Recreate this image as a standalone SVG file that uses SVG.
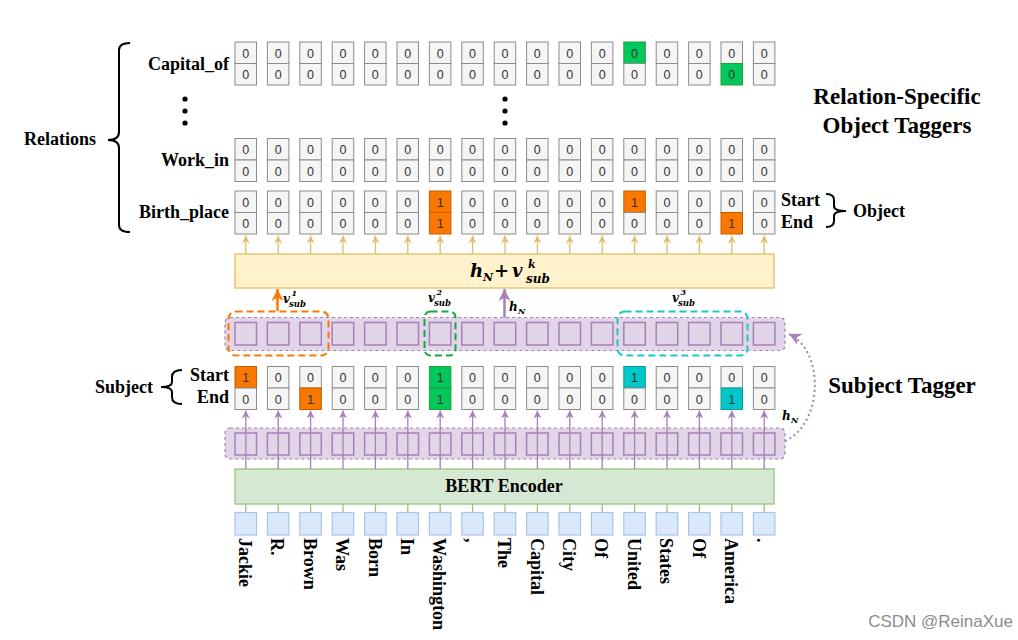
<svg xmlns="http://www.w3.org/2000/svg" width="1018" height="640" viewBox="0 0 1018 640">
<defs>
<style>
.c{fill:#f5f5f5;stroke:#8c8c8c;stroke-width:1}
.o{fill:#fa7800;stroke:#c45c00;stroke-width:1}
.g{fill:#00c85a;stroke:#2a9a3a;stroke-width:1}
.cy{fill:#00c8c8;stroke:#129a9a;stroke-width:1}
.d{font-family:"Liberation Sans",Arial,sans-serif;font-size:12.5px;fill:#333;text-anchor:middle}
.lb{font-family:"Liberation Serif","Times New Roman",serif;font-weight:bold;font-size:18px;fill:#000}
.big{font-family:"Liberation Serif","Times New Roman",serif;font-weight:bold;font-size:23px;fill:#000;text-anchor:middle}
.tk{font-family:"Liberation Serif","Times New Roman",serif;font-weight:bold;font-size:18px;fill:#000}
.m{font-family:"DejaVu Serif","Liberation Serif",serif;font-weight:bold;font-style:italic;fill:#000}
.band{fill:#e1d5e7;stroke:#a680b8;stroke-width:1.2;stroke-dasharray:3 3}
.sq{fill:#e1d5e7;stroke:#a680b8;stroke-width:1.5}
.tok{fill:#dae8fc;stroke:#a9c4eb;stroke-width:1.2}
.br{fill:none;stroke:#000;stroke-width:2}
.pa{stroke:#a680b8;stroke-width:1.3;fill:none}
.ya{stroke:#e0be6a;stroke-width:1.3;fill:none}
.gl{stroke:#97c27e;stroke-width:1.3;fill:none}
</style>
<marker id="mp" viewBox="0 0 10 10" refX="10" refY="5" markerWidth="8" markerHeight="8" orient="auto" markerUnits="userSpaceOnUse"><path d="M0,0 L10,5 L0,10 L3,5 z" fill="#a680b8"/></marker>
<marker id="my" viewBox="0 0 10 10" refX="10" refY="5" markerWidth="8" markerHeight="8" orient="auto" markerUnits="userSpaceOnUse"><path d="M0,0 L10,5 L0,10 L3,5 z" fill="#e0be6a"/></marker>
<marker id="mo" viewBox="0 0 10 10" refX="10" refY="5" markerWidth="12" markerHeight="12" orient="auto" markerUnits="userSpaceOnUse"><path d="M0,0 L10,5 L0,10 L3,5 z" fill="#fa7800"/></marker>
<marker id="mpb" viewBox="0 0 10 10" refX="10" refY="5" markerWidth="12" markerHeight="12" orient="auto" markerUnits="userSpaceOnUse"><path d="M0,0 L10,5 L0,10 L3,5 z" fill="#a680b8"/></marker>
</defs>
<rect width="1018" height="640" fill="#fff"/>

<!-- labels -->
<g id="labels">
<text class="lb" x="229" y="70" text-anchor="end">Capital_of</text>
<text class="lb" x="229" y="166" text-anchor="end">Work_in</text>
<text class="lb" x="229" y="218" text-anchor="end">Birth_place</text>
<text class="lb" x="24" y="145">Relations</text>
<path class="br" d="M130,43 Q119,43 119,50 L119,132 Q119,140 108,140 Q119,140 119,148 L119,225 Q119,232 130,232"/>
<circle cx="185" cy="99" r="2.6"/><circle cx="185" cy="111" r="2.6"/><circle cx="185" cy="123" r="2.6"/>
<circle cx="505" cy="99" r="2.6"/><circle cx="505" cy="111" r="2.6"/><circle cx="505" cy="123" r="2.6"/>
<text class="big" x="897" y="104">Relation-Specific</text>
<text class="big" x="897" y="133">Object Taggers</text>
<text class="lb" x="781" y="206">Start</text>
<text class="lb" x="781" y="228">End</text>
<path class="br" d="M826,194 Q834,194 834,200 L834,206 Q834,211 846,211 Q834,211 834,216 L834,221 Q834,227 826,227"/>
<text class="lb" x="853" y="217">Object</text>
<text class="lb" x="95" y="393">Subject</text>
<path class="br" d="M182,370 Q172,370 172,377 L172,382 Q172,387 161,387 Q172,387 172,392 L172,397 Q172,404 182,404"/>
<text class="lb" x="229" y="381" text-anchor="end">Start</text>
<text class="lb" x="229" y="403" text-anchor="end">End</text>
<text class="big" x="902" y="393">Subject Tagger</text>
</g>

<!-- Capital_of row -->
<g id="row-capital">
<g transform="translate(235,42)"><rect class="c" width="21.5" height="21.5"/><rect class="c" y="21.5" width="21.5" height="21.5"/><text class="d" x="10.75" y="15.5">0</text><text class="d" x="10.75" y="37">0</text></g>
<g transform="translate(267.4,42)"><rect class="c" width="21.5" height="21.5"/><rect class="c" y="21.5" width="21.5" height="21.5"/><text class="d" x="10.75" y="15.5">0</text><text class="d" x="10.75" y="37">0</text></g>
<g transform="translate(299.8,42)"><rect class="c" width="21.5" height="21.5"/><rect class="c" y="21.5" width="21.5" height="21.5"/><text class="d" x="10.75" y="15.5">0</text><text class="d" x="10.75" y="37">0</text></g>
<g transform="translate(332.2,42)"><rect class="c" width="21.5" height="21.5"/><rect class="c" y="21.5" width="21.5" height="21.5"/><text class="d" x="10.75" y="15.5">0</text><text class="d" x="10.75" y="37">0</text></g>
<g transform="translate(364.6,42)"><rect class="c" width="21.5" height="21.5"/><rect class="c" y="21.5" width="21.5" height="21.5"/><text class="d" x="10.75" y="15.5">0</text><text class="d" x="10.75" y="37">0</text></g>
<g transform="translate(397,42)"><rect class="c" width="21.5" height="21.5"/><rect class="c" y="21.5" width="21.5" height="21.5"/><text class="d" x="10.75" y="15.5">0</text><text class="d" x="10.75" y="37">0</text></g>
<g transform="translate(429.4,42)"><rect class="c" width="21.5" height="21.5"/><rect class="c" y="21.5" width="21.5" height="21.5"/><text class="d" x="10.75" y="15.5">0</text><text class="d" x="10.75" y="37">0</text></g>
<g transform="translate(461.8,42)"><rect class="c" width="21.5" height="21.5"/><rect class="c" y="21.5" width="21.5" height="21.5"/><text class="d" x="10.75" y="15.5">0</text><text class="d" x="10.75" y="37">0</text></g>
<g transform="translate(494.2,42)"><rect class="c" width="21.5" height="21.5"/><rect class="c" y="21.5" width="21.5" height="21.5"/><text class="d" x="10.75" y="15.5">0</text><text class="d" x="10.75" y="37">0</text></g>
<g transform="translate(526.6,42)"><rect class="c" width="21.5" height="21.5"/><rect class="c" y="21.5" width="21.5" height="21.5"/><text class="d" x="10.75" y="15.5">0</text><text class="d" x="10.75" y="37">0</text></g>
<g transform="translate(559,42)"><rect class="c" width="21.5" height="21.5"/><rect class="c" y="21.5" width="21.5" height="21.5"/><text class="d" x="10.75" y="15.5">0</text><text class="d" x="10.75" y="37">0</text></g>
<g transform="translate(591.4,42)"><rect class="c" width="21.5" height="21.5"/><rect class="c" y="21.5" width="21.5" height="21.5"/><text class="d" x="10.75" y="15.5">0</text><text class="d" x="10.75" y="37">0</text></g>
<g transform="translate(623.8,42)"><rect class="g" width="21.5" height="21.5"/><rect class="c" y="21.5" width="21.5" height="21.5"/><text class="d" x="10.75" y="15.5">0</text><text class="d" x="10.75" y="37">0</text></g>
<g transform="translate(656.2,42)"><rect class="c" width="21.5" height="21.5"/><rect class="c" y="21.5" width="21.5" height="21.5"/><text class="d" x="10.75" y="15.5">0</text><text class="d" x="10.75" y="37">0</text></g>
<g transform="translate(688.6,42)"><rect class="c" width="21.5" height="21.5"/><rect class="c" y="21.5" width="21.5" height="21.5"/><text class="d" x="10.75" y="15.5">0</text><text class="d" x="10.75" y="37">0</text></g>
<g transform="translate(721,42)"><rect class="c" width="21.5" height="21.5"/><rect class="g" y="21.5" width="21.5" height="21.5"/><text class="d" x="10.75" y="15.5">0</text><text class="d" x="10.75" y="37">0</text></g>
<g transform="translate(753.4,42)"><rect class="c" width="21.5" height="21.5"/><rect class="c" y="21.5" width="21.5" height="21.5"/><text class="d" x="10.75" y="15.5">0</text><text class="d" x="10.75" y="37">0</text></g>
</g>

<!-- Work_in row -->
<g id="row-workin">
<g transform="translate(235,138.5)"><rect class="c" width="21.5" height="21.5"/><rect class="c" y="21.5" width="21.5" height="21.5"/><text class="d" x="10.75" y="15.5">0</text><text class="d" x="10.75" y="37">0</text></g>
<g transform="translate(267.4,138.5)"><rect class="c" width="21.5" height="21.5"/><rect class="c" y="21.5" width="21.5" height="21.5"/><text class="d" x="10.75" y="15.5">0</text><text class="d" x="10.75" y="37">0</text></g>
<g transform="translate(299.8,138.5)"><rect class="c" width="21.5" height="21.5"/><rect class="c" y="21.5" width="21.5" height="21.5"/><text class="d" x="10.75" y="15.5">0</text><text class="d" x="10.75" y="37">0</text></g>
<g transform="translate(332.2,138.5)"><rect class="c" width="21.5" height="21.5"/><rect class="c" y="21.5" width="21.5" height="21.5"/><text class="d" x="10.75" y="15.5">0</text><text class="d" x="10.75" y="37">0</text></g>
<g transform="translate(364.6,138.5)"><rect class="c" width="21.5" height="21.5"/><rect class="c" y="21.5" width="21.5" height="21.5"/><text class="d" x="10.75" y="15.5">0</text><text class="d" x="10.75" y="37">0</text></g>
<g transform="translate(397,138.5)"><rect class="c" width="21.5" height="21.5"/><rect class="c" y="21.5" width="21.5" height="21.5"/><text class="d" x="10.75" y="15.5">0</text><text class="d" x="10.75" y="37">0</text></g>
<g transform="translate(429.4,138.5)"><rect class="c" width="21.5" height="21.5"/><rect class="c" y="21.5" width="21.5" height="21.5"/><text class="d" x="10.75" y="15.5">0</text><text class="d" x="10.75" y="37">0</text></g>
<g transform="translate(461.8,138.5)"><rect class="c" width="21.5" height="21.5"/><rect class="c" y="21.5" width="21.5" height="21.5"/><text class="d" x="10.75" y="15.5">0</text><text class="d" x="10.75" y="37">0</text></g>
<g transform="translate(494.2,138.5)"><rect class="c" width="21.5" height="21.5"/><rect class="c" y="21.5" width="21.5" height="21.5"/><text class="d" x="10.75" y="15.5">0</text><text class="d" x="10.75" y="37">0</text></g>
<g transform="translate(526.6,138.5)"><rect class="c" width="21.5" height="21.5"/><rect class="c" y="21.5" width="21.5" height="21.5"/><text class="d" x="10.75" y="15.5">0</text><text class="d" x="10.75" y="37">0</text></g>
<g transform="translate(559,138.5)"><rect class="c" width="21.5" height="21.5"/><rect class="c" y="21.5" width="21.5" height="21.5"/><text class="d" x="10.75" y="15.5">0</text><text class="d" x="10.75" y="37">0</text></g>
<g transform="translate(591.4,138.5)"><rect class="c" width="21.5" height="21.5"/><rect class="c" y="21.5" width="21.5" height="21.5"/><text class="d" x="10.75" y="15.5">0</text><text class="d" x="10.75" y="37">0</text></g>
<g transform="translate(623.8,138.5)"><rect class="c" width="21.5" height="21.5"/><rect class="c" y="21.5" width="21.5" height="21.5"/><text class="d" x="10.75" y="15.5">0</text><text class="d" x="10.75" y="37">0</text></g>
<g transform="translate(656.2,138.5)"><rect class="c" width="21.5" height="21.5"/><rect class="c" y="21.5" width="21.5" height="21.5"/><text class="d" x="10.75" y="15.5">0</text><text class="d" x="10.75" y="37">0</text></g>
<g transform="translate(688.6,138.5)"><rect class="c" width="21.5" height="21.5"/><rect class="c" y="21.5" width="21.5" height="21.5"/><text class="d" x="10.75" y="15.5">0</text><text class="d" x="10.75" y="37">0</text></g>
<g transform="translate(721,138.5)"><rect class="c" width="21.5" height="21.5"/><rect class="c" y="21.5" width="21.5" height="21.5"/><text class="d" x="10.75" y="15.5">0</text><text class="d" x="10.75" y="37">0</text></g>
<g transform="translate(753.4,138.5)"><rect class="c" width="21.5" height="21.5"/><rect class="c" y="21.5" width="21.5" height="21.5"/><text class="d" x="10.75" y="15.5">0</text><text class="d" x="10.75" y="37">0</text></g>
</g>

<!-- Birth_place row -->
<g id="row-birth">
<g transform="translate(235,191)"><rect class="c" width="21.5" height="21.5"/><rect class="c" y="21.5" width="21.5" height="21.5"/><text class="d" x="10.75" y="15.5">0</text><text class="d" x="10.75" y="37">0</text></g>
<g transform="translate(267.4,191)"><rect class="c" width="21.5" height="21.5"/><rect class="c" y="21.5" width="21.5" height="21.5"/><text class="d" x="10.75" y="15.5">0</text><text class="d" x="10.75" y="37">0</text></g>
<g transform="translate(299.8,191)"><rect class="c" width="21.5" height="21.5"/><rect class="c" y="21.5" width="21.5" height="21.5"/><text class="d" x="10.75" y="15.5">0</text><text class="d" x="10.75" y="37">0</text></g>
<g transform="translate(332.2,191)"><rect class="c" width="21.5" height="21.5"/><rect class="c" y="21.5" width="21.5" height="21.5"/><text class="d" x="10.75" y="15.5">0</text><text class="d" x="10.75" y="37">0</text></g>
<g transform="translate(364.6,191)"><rect class="c" width="21.5" height="21.5"/><rect class="c" y="21.5" width="21.5" height="21.5"/><text class="d" x="10.75" y="15.5">0</text><text class="d" x="10.75" y="37">0</text></g>
<g transform="translate(397,191)"><rect class="c" width="21.5" height="21.5"/><rect class="c" y="21.5" width="21.5" height="21.5"/><text class="d" x="10.75" y="15.5">0</text><text class="d" x="10.75" y="37">0</text></g>
<g transform="translate(429.4,191)"><rect class="o" width="21.5" height="21.5"/><rect class="o" y="21.5" width="21.5" height="21.5"/><text class="d" x="10.75" y="15.5">1</text><text class="d" x="10.75" y="37">1</text></g>
<g transform="translate(461.8,191)"><rect class="c" width="21.5" height="21.5"/><rect class="c" y="21.5" width="21.5" height="21.5"/><text class="d" x="10.75" y="15.5">0</text><text class="d" x="10.75" y="37">0</text></g>
<g transform="translate(494.2,191)"><rect class="c" width="21.5" height="21.5"/><rect class="c" y="21.5" width="21.5" height="21.5"/><text class="d" x="10.75" y="15.5">0</text><text class="d" x="10.75" y="37">0</text></g>
<g transform="translate(526.6,191)"><rect class="c" width="21.5" height="21.5"/><rect class="c" y="21.5" width="21.5" height="21.5"/><text class="d" x="10.75" y="15.5">0</text><text class="d" x="10.75" y="37">0</text></g>
<g transform="translate(559,191)"><rect class="c" width="21.5" height="21.5"/><rect class="c" y="21.5" width="21.5" height="21.5"/><text class="d" x="10.75" y="15.5">0</text><text class="d" x="10.75" y="37">0</text></g>
<g transform="translate(591.4,191)"><rect class="c" width="21.5" height="21.5"/><rect class="c" y="21.5" width="21.5" height="21.5"/><text class="d" x="10.75" y="15.5">0</text><text class="d" x="10.75" y="37">0</text></g>
<g transform="translate(623.8,191)"><rect class="o" width="21.5" height="21.5"/><rect class="c" y="21.5" width="21.5" height="21.5"/><text class="d" x="10.75" y="15.5">1</text><text class="d" x="10.75" y="37">0</text></g>
<g transform="translate(656.2,191)"><rect class="c" width="21.5" height="21.5"/><rect class="c" y="21.5" width="21.5" height="21.5"/><text class="d" x="10.75" y="15.5">0</text><text class="d" x="10.75" y="37">0</text></g>
<g transform="translate(688.6,191)"><rect class="c" width="21.5" height="21.5"/><rect class="c" y="21.5" width="21.5" height="21.5"/><text class="d" x="10.75" y="15.5">0</text><text class="d" x="10.75" y="37">0</text></g>
<g transform="translate(721,191)"><rect class="c" width="21.5" height="21.5"/><rect class="o" y="21.5" width="21.5" height="21.5"/><text class="d" x="10.75" y="15.5">0</text><text class="d" x="10.75" y="37">1</text></g>
<g transform="translate(753.4,191)"><rect class="c" width="21.5" height="21.5"/><rect class="c" y="21.5" width="21.5" height="21.5"/><text class="d" x="10.75" y="15.5">0</text><text class="d" x="10.75" y="37">0</text></g>
</g>

<!-- Yellow combine box -->
<g id="combine">
<rect x="235" y="254" width="539" height="34" fill="#fff2cc" stroke="#e0be6a" stroke-width="1.3"/>
<text class="m" font-size="18"><tspan x="470" y="277">h</tspan><tspan x="483" y="281" font-size="11">N</tspan><tspan x="494" y="277" font-style="normal">+</tspan><tspan x="512" y="277">v</tspan><tspan x="528" y="268" font-size="11">k</tspan><tspan x="526" y="283" font-size="12">sub</tspan></text>
</g>

<!-- Middle encoded layer -->
<g id="layer-mid">
<rect class="band" x="225" y="317.5" width="560" height="33" rx="5"/>
<rect class="sq" x="235" y="322.5" width="21.5" height="22.5"/>
<rect class="sq" x="267.4" y="322.5" width="21.5" height="22.5"/>
<rect class="sq" x="299.8" y="322.5" width="21.5" height="22.5"/>
<rect class="sq" x="332.2" y="322.5" width="21.5" height="22.5"/>
<rect class="sq" x="364.6" y="322.5" width="21.5" height="22.5"/>
<rect class="sq" x="397" y="322.5" width="21.5" height="22.5"/>
<rect class="sq" x="429.4" y="322.5" width="21.5" height="22.5"/>
<rect class="sq" x="461.8" y="322.5" width="21.5" height="22.5"/>
<rect class="sq" x="494.2" y="322.5" width="21.5" height="22.5"/>
<rect class="sq" x="526.6" y="322.5" width="21.5" height="22.5"/>
<rect class="sq" x="559" y="322.5" width="21.5" height="22.5"/>
<rect class="sq" x="591.4" y="322.5" width="21.5" height="22.5"/>
<rect class="sq" x="623.8" y="322.5" width="21.5" height="22.5"/>
<rect class="sq" x="656.2" y="322.5" width="21.5" height="22.5"/>
<rect class="sq" x="688.6" y="322.5" width="21.5" height="22.5"/>
<rect class="sq" x="721" y="322.5" width="21.5" height="22.5"/>
<rect class="sq" x="753.4" y="322.5" width="21.5" height="22.5"/>
</g>

<!-- subject span highlights -->
<g id="spans">
<rect x="228.5" y="311.5" width="100" height="44" rx="7" fill="none" stroke="#fa7800" stroke-width="2" stroke-dasharray="7 4"/>
<rect x="424.5" y="311.5" width="31" height="44" rx="6" fill="none" stroke="#1aa83a" stroke-width="2" stroke-dasharray="7 4"/>
<rect x="617.5" y="311.5" width="130" height="44" rx="7" fill="none" stroke="#19c8c8" stroke-width="2" stroke-dasharray="7 4"/>
<text class="m" font-size="12"><tspan x="283" y="303">v</tspan><tspan x="291.5" y="296" font-size="8">1</tspan><tspan x="289" y="307" font-size="8.5">sub</tspan></text>
<text class="m" font-size="12"><tspan x="428" y="302">v</tspan><tspan x="436.5" y="295" font-size="8">2</tspan><tspan x="434" y="306" font-size="8.5">sub</tspan></text>
<text class="m" font-size="12"><tspan x="672" y="302">v</tspan><tspan x="680.5" y="295" font-size="8">3</tspan><tspan x="678" y="306" font-size="8.5">sub</tspan></text>
<text class="m" font-size="12"><tspan x="509" y="311">h</tspan><tspan x="518" y="314" font-size="8">N</tspan></text>
</g>

<!-- Subject row -->
<g id="row-subject">
<g transform="translate(235,366.5)"><rect class="o" width="21.5" height="21.5"/><rect class="c" y="21.5" width="21.5" height="21.5"/><text class="d" x="10.75" y="15.5">1</text><text class="d" x="10.75" y="37">0</text></g>
<g transform="translate(267.4,366.5)"><rect class="c" width="21.5" height="21.5"/><rect class="c" y="21.5" width="21.5" height="21.5"/><text class="d" x="10.75" y="15.5">0</text><text class="d" x="10.75" y="37">0</text></g>
<g transform="translate(299.8,366.5)"><rect class="c" width="21.5" height="21.5"/><rect class="o" y="21.5" width="21.5" height="21.5"/><text class="d" x="10.75" y="15.5">0</text><text class="d" x="10.75" y="37">1</text></g>
<g transform="translate(332.2,366.5)"><rect class="c" width="21.5" height="21.5"/><rect class="c" y="21.5" width="21.5" height="21.5"/><text class="d" x="10.75" y="15.5">0</text><text class="d" x="10.75" y="37">0</text></g>
<g transform="translate(364.6,366.5)"><rect class="c" width="21.5" height="21.5"/><rect class="c" y="21.5" width="21.5" height="21.5"/><text class="d" x="10.75" y="15.5">0</text><text class="d" x="10.75" y="37">0</text></g>
<g transform="translate(397,366.5)"><rect class="c" width="21.5" height="21.5"/><rect class="c" y="21.5" width="21.5" height="21.5"/><text class="d" x="10.75" y="15.5">0</text><text class="d" x="10.75" y="37">0</text></g>
<g transform="translate(429.4,366.5)"><rect class="g" width="21.5" height="21.5"/><rect class="g" y="21.5" width="21.5" height="21.5"/><text class="d" x="10.75" y="15.5">1</text><text class="d" x="10.75" y="37">1</text></g>
<g transform="translate(461.8,366.5)"><rect class="c" width="21.5" height="21.5"/><rect class="c" y="21.5" width="21.5" height="21.5"/><text class="d" x="10.75" y="15.5">0</text><text class="d" x="10.75" y="37">0</text></g>
<g transform="translate(494.2,366.5)"><rect class="c" width="21.5" height="21.5"/><rect class="c" y="21.5" width="21.5" height="21.5"/><text class="d" x="10.75" y="15.5">0</text><text class="d" x="10.75" y="37">0</text></g>
<g transform="translate(526.6,366.5)"><rect class="c" width="21.5" height="21.5"/><rect class="c" y="21.5" width="21.5" height="21.5"/><text class="d" x="10.75" y="15.5">0</text><text class="d" x="10.75" y="37">0</text></g>
<g transform="translate(559,366.5)"><rect class="c" width="21.5" height="21.5"/><rect class="c" y="21.5" width="21.5" height="21.5"/><text class="d" x="10.75" y="15.5">0</text><text class="d" x="10.75" y="37">0</text></g>
<g transform="translate(591.4,366.5)"><rect class="c" width="21.5" height="21.5"/><rect class="c" y="21.5" width="21.5" height="21.5"/><text class="d" x="10.75" y="15.5">0</text><text class="d" x="10.75" y="37">0</text></g>
<g transform="translate(623.8,366.5)"><rect class="cy" width="21.5" height="21.5"/><rect class="c" y="21.5" width="21.5" height="21.5"/><text class="d" x="10.75" y="15.5">1</text><text class="d" x="10.75" y="37">0</text></g>
<g transform="translate(656.2,366.5)"><rect class="c" width="21.5" height="21.5"/><rect class="c" y="21.5" width="21.5" height="21.5"/><text class="d" x="10.75" y="15.5">0</text><text class="d" x="10.75" y="37">0</text></g>
<g transform="translate(688.6,366.5)"><rect class="c" width="21.5" height="21.5"/><rect class="c" y="21.5" width="21.5" height="21.5"/><text class="d" x="10.75" y="15.5">0</text><text class="d" x="10.75" y="37">0</text></g>
<g transform="translate(721,366.5)"><rect class="c" width="21.5" height="21.5"/><rect class="cy" y="21.5" width="21.5" height="21.5"/><text class="d" x="10.75" y="15.5">0</text><text class="d" x="10.75" y="37">1</text></g>
<g transform="translate(753.4,366.5)"><rect class="c" width="21.5" height="21.5"/><rect class="c" y="21.5" width="21.5" height="21.5"/><text class="d" x="10.75" y="15.5">0</text><text class="d" x="10.75" y="37">0</text></g>
</g>

<!-- Bottom encoded layer -->
<g id="layer-bottom">
<rect class="band" x="225" y="428" width="560" height="31" rx="5"/>
<rect class="sq" x="235" y="433" width="21.5" height="22"/>
<rect class="sq" x="267.4" y="433" width="21.5" height="22"/>
<rect class="sq" x="299.8" y="433" width="21.5" height="22"/>
<rect class="sq" x="332.2" y="433" width="21.5" height="22"/>
<rect class="sq" x="364.6" y="433" width="21.5" height="22"/>
<rect class="sq" x="397" y="433" width="21.5" height="22"/>
<rect class="sq" x="429.4" y="433" width="21.5" height="22"/>
<rect class="sq" x="461.8" y="433" width="21.5" height="22"/>
<rect class="sq" x="494.2" y="433" width="21.5" height="22"/>
<rect class="sq" x="526.6" y="433" width="21.5" height="22"/>
<rect class="sq" x="559" y="433" width="21.5" height="22"/>
<rect class="sq" x="591.4" y="433" width="21.5" height="22"/>
<rect class="sq" x="623.8" y="433" width="21.5" height="22"/>
<rect class="sq" x="656.2" y="433" width="21.5" height="22"/>
<rect class="sq" x="688.6" y="433" width="21.5" height="22"/>
<rect class="sq" x="721" y="433" width="21.5" height="22"/>
<rect class="sq" x="753.4" y="433" width="21.5" height="22"/>
<text class="m" font-size="12"><tspan x="782" y="420">h</tspan><tspan x="791" y="423" font-size="8">N</tspan></text>
</g>

<!-- BERT encoder -->
<g id="bert">
<rect x="235" y="469" width="539" height="35" fill="#d5e8d4" stroke="#97c27e" stroke-width="1.3"/>
<text class="lb" x="504" y="492" font-size="19.5" text-anchor="middle">BERT Encoder</text>
</g>

<!-- Tokens -->
<g id="tokens">
<rect class="tok" x="235" y="512.5" width="21.5" height="22.5"/>
<rect class="tok" x="267.4" y="512.5" width="21.5" height="22.5"/>
<rect class="tok" x="299.8" y="512.5" width="21.5" height="22.5"/>
<rect class="tok" x="332.2" y="512.5" width="21.5" height="22.5"/>
<rect class="tok" x="364.6" y="512.5" width="21.5" height="22.5"/>
<rect class="tok" x="397" y="512.5" width="21.5" height="22.5"/>
<rect class="tok" x="429.4" y="512.5" width="21.5" height="22.5"/>
<rect class="tok" x="461.8" y="512.5" width="21.5" height="22.5"/>
<rect class="tok" x="494.2" y="512.5" width="21.5" height="22.5"/>
<rect class="tok" x="526.6" y="512.5" width="21.5" height="22.5"/>
<rect class="tok" x="559" y="512.5" width="21.5" height="22.5"/>
<rect class="tok" x="591.4" y="512.5" width="21.5" height="22.5"/>
<rect class="tok" x="623.8" y="512.5" width="21.5" height="22.5"/>
<rect class="tok" x="656.2" y="512.5" width="21.5" height="22.5"/>
<rect class="tok" x="688.6" y="512.5" width="21.5" height="22.5"/>
<rect class="tok" x="721" y="512.5" width="21.5" height="22.5"/>
<rect class="tok" x="753.4" y="512.5" width="21.5" height="22.5"/>
<text class="tk" transform="translate(239,538) rotate(90)">Jackie</text>
<text class="tk" transform="translate(271.4,538) rotate(90)">R.</text>
<text class="tk" transform="translate(303.8,538) rotate(90)">Brown</text>
<text class="tk" transform="translate(336.2,538) rotate(90)">Was</text>
<text class="tk" transform="translate(368.6,538) rotate(90)">Born</text>
<text class="tk" transform="translate(401,538) rotate(90)">In</text>
<text class="tk" transform="translate(433.4,538) rotate(90)">Washington</text>
<text class="tk" transform="translate(465.8,538) rotate(90)">,</text>
<text class="tk" transform="translate(498.2,538) rotate(90)">The</text>
<text class="tk" transform="translate(530.6,538) rotate(90)">Capital</text>
<text class="tk" transform="translate(563,538) rotate(90)">City</text>
<text class="tk" transform="translate(595.4,538) rotate(90)">Of</text>
<text class="tk" transform="translate(627.8,538) rotate(90)">United</text>
<text class="tk" transform="translate(660.2,538) rotate(90)">States</text>
<text class="tk" transform="translate(692.6,538) rotate(90)">Of</text>
<text class="tk" transform="translate(725,538) rotate(90)">America</text>
<text class="tk" transform="translate(757.4,538) rotate(90)">.</text>
</g>

<!-- Connectors -->
<g id="connectors">
<path class="ya" marker-end="url(#my)" d="M245.8,254V235.5"/><path class="ya" marker-end="url(#my)" d="M278.2,254V235.5"/><path class="ya" marker-end="url(#my)" d="M310.6,254V235.5"/><path class="ya" marker-end="url(#my)" d="M343,254V235.5"/><path class="ya" marker-end="url(#my)" d="M375.4,254V235.5"/><path class="ya" marker-end="url(#my)" d="M407.8,254V235.5"/><path class="ya" marker-end="url(#my)" d="M440.2,254V235.5"/><path class="ya" marker-end="url(#my)" d="M472.6,254V235.5"/><path class="ya" marker-end="url(#my)" d="M505,254V235.5"/><path class="ya" marker-end="url(#my)" d="M537.4,254V235.5"/><path class="ya" marker-end="url(#my)" d="M569.8,254V235.5"/><path class="ya" marker-end="url(#my)" d="M602.2,254V235.5"/><path class="ya" marker-end="url(#my)" d="M634.6,254V235.5"/><path class="ya" marker-end="url(#my)" d="M667,254V235.5"/><path class="ya" marker-end="url(#my)" d="M699.4,254V235.5"/><path class="ya" marker-end="url(#my)" d="M731.8,254V235.5"/><path class="ya" marker-end="url(#my)" d="M764.2,254V235.5"/>
<path class="pa" marker-end="url(#mp)" d="M245.8,469V410.5"/><path class="pa" marker-end="url(#mp)" d="M278.2,469V410.5"/><path class="pa" marker-end="url(#mp)" d="M310.6,469V410.5"/><path class="pa" marker-end="url(#mp)" d="M343,469V410.5"/><path class="pa" marker-end="url(#mp)" d="M375.4,469V410.5"/><path class="pa" marker-end="url(#mp)" d="M407.8,469V410.5"/><path class="pa" marker-end="url(#mp)" d="M440.2,469V410.5"/><path class="pa" marker-end="url(#mp)" d="M472.6,469V410.5"/><path class="pa" marker-end="url(#mp)" d="M505,469V410.5"/><path class="pa" marker-end="url(#mp)" d="M537.4,469V410.5"/><path class="pa" marker-end="url(#mp)" d="M569.8,469V410.5"/><path class="pa" marker-end="url(#mp)" d="M602.2,469V410.5"/><path class="pa" marker-end="url(#mp)" d="M634.6,469V410.5"/><path class="pa" marker-end="url(#mp)" d="M667,469V410.5"/><path class="pa" marker-end="url(#mp)" d="M699.4,469V410.5"/><path class="pa" marker-end="url(#mp)" d="M731.8,469V410.5"/><path class="pa" marker-end="url(#mp)" d="M764.2,469V410.5"/>
<path class="gl" d="M245.8,504V512.5 M278.2,504V512.5 M310.6,504V512.5 M343,504V512.5 M375.4,504V512.5 M407.8,504V512.5 M440.2,504V512.5 M472.6,504V512.5 M505,504V512.5 M537.4,504V512.5 M569.8,504V512.5 M602.2,504V512.5 M634.6,504V512.5 M667,504V512.5 M699.4,504V512.5 M731.8,504V512.5 M764.2,504V512.5"/>
<path d="M277.5,311V289" stroke="#fa7800" stroke-width="2.5" fill="none" marker-end="url(#mo)"/>
<path d="M504.5,317.5V289" stroke="#a680b8" stroke-width="2.5" fill="none" marker-end="url(#mpb)"/>
<path d="M785,441 C822,425 826,352 789,334" stroke="#a680b8" stroke-width="2" stroke-dasharray="2 3" fill="none" marker-end="url(#mpb)"/>
</g>

<text x="1013" y="627" text-anchor="end" font-family="Liberation Sans,Arial,sans-serif" font-size="17" fill="#8c8c8c">CSDN @ReinaXue</text>
</svg>
